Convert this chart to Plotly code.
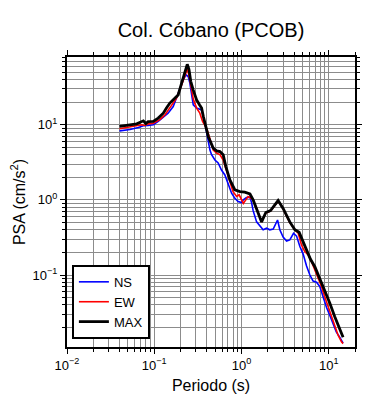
import numpy as np
import plotly.graph_objects as go

# ---------------- data ----------------
ns_period = [0.04, 0.0528, 0.0656, 0.075, 0.085, 0.0975, 0.111, 0.127, 0.144, 0.165, 0.18, 0.197,
             0.215, 0.231, 0.245, 0.256, 0.268, 0.28, 0.306, 0.349, 0.381, 0.398, 0.416, 0.435,
             0.454, 0.496, 0.54, 0.59, 0.645, 0.705, 0.77, 0.84, 0.915, 1.0, 1.05, 1.14, 1.25,
             1.31, 1.36, 1.49, 1.62, 1.77, 1.94, 2.11, 2.31, 2.59, 2.75, 3.0, 3.29, 3.58, 3.95,
             4.28, 4.67, 5.09, 5.57, 6.08, 6.62, 7.25, 7.91, 8.63, 9.44, 10.3, 11.2, 12.2, 13.4, 14.6]
ns_psa = [8.3, 8.65, 9.2, 9.7, 9.8, 10.0, 11.1, 12.5, 14.3, 17.5, 22.7, 30.8,
          39.8, 46.4, 44.0, 36.0, 24.0, 18.5, 16.7, 15.8, 10.5, 7.7, 6.0, 4.6,
          4.0, 3.4, 3.1, 2.5, 2.15, 1.67, 1.23, 1.05, 0.95, 0.92, 1.0, 1.08, 1.09,
          0.90, 0.72, 0.51, 0.46, 0.40, 0.42, 0.40, 0.41, 0.54, 0.40, 0.32, 0.284, 0.293, 0.36,
          0.33, 0.24, 0.19, 0.132, 0.10, 0.083, 0.080, 0.070, 0.050, 0.037, 0.029, 0.022, 0.0175, 0.0148, 0.0124]

ew_period = [0.04, 0.05, 0.063, 0.072, 0.078, 0.085, 0.0975, 0.116, 0.133, 0.158, 0.18, 0.206,
             0.225, 0.24, 0.256, 0.268, 0.28, 0.306, 0.333, 0.358, 0.381, 0.398, 0.427, 0.474,
             0.519, 0.566, 0.617, 0.674, 0.736, 0.80, 0.88, 0.94, 1.05, 1.19, 1.29, 1.36, 1.49,
             1.70, 1.90, 2.15, 2.63, 3.0, 3.58, 4.09, 4.47, 4.88, 5.32, 5.81, 6.35, 6.93, 7.57,
             8.28, 9.02, 9.84, 10.8, 11.7, 12.8, 14.0, 14.6]
ew_psa = [8.85, 9.2, 9.8, 10.0, 9.8, 10.3, 10.5, 11.7, 13.6, 18.5, 22.7, 34.0,
          46.0, 56.0, 40.0, 30.8, 22.0, 16.7, 14.3, 11.1, 9.5, 9.0, 7.0, 4.6,
          4.2, 4.0, 3.4, 2.5, 1.75, 1.29, 1.11, 1.17, 0.90, 1.11, 1.05, 1.0, 0.77,
          0.51, 0.67, 0.71, 0.97, 0.76, 0.50, 0.40, 0.36, 0.25, 0.205, 0.185, 0.15, 0.117, 0.090,
          0.070, 0.051, 0.038, 0.028, 0.020, 0.0158, 0.0129, 0.0122]

max_period = [0.04, 0.05, 0.063, 0.075, 0.08, 0.085, 0.0975, 0.111, 0.127, 0.138, 0.151, 0.173,
              0.188, 0.206, 0.225, 0.239, 0.25, 0.262, 0.28, 0.306, 0.33, 0.349, 0.365, 0.381,
              0.416, 0.474, 0.519, 0.566, 0.617, 0.662, 0.736, 0.84, 0.96, 1.09, 1.25, 1.36,
              1.49, 1.70, 1.90, 2.15, 2.63, 3.0, 3.58, 4.09, 4.58, 5.09, 5.57, 6.18, 6.93, 7.91,
              9.02, 10.3, 11.7, 13.4, 14.6]
max_psa = [9.5, 9.8, 10.3, 11.3, 10.4, 11.0, 11.1, 12.3, 14.3, 16.7, 19.5, 22.7,
           25.0, 36.0, 49.0, 64.0, 55.0, 38.0, 29.0, 21.5, 18.5, 16.7, 13.0, 10.5,
           7.0, 4.9, 4.5, 4.4, 4.0, 2.78, 1.85, 1.36, 1.29, 1.27, 1.2, 1.0,
           0.77, 0.51, 0.68, 0.72, 0.98, 0.77, 0.51, 0.40, 0.37, 0.28, 0.215, 0.162, 0.129, 0.090,
           0.063, 0.042, 0.028, 0.0185, 0.0148]

x_tickvals = [0.01, 0.1, 1, 10]
x_ticktext = ["10<sup>−2</sup>", "10<sup>−1</sup>", "10<sup>0</sup>", "10<sup>1</sup>"]
y_tickvals = [0.1, 1, 10]
y_ticktext = ["10<sup>−1</sup>", "10<sup>0</sup>", "10<sup>1</sup>"]

title_text = "Col. Cóbano (PCOB)"
x_title = "Periodo (s)"
y_title = "PSA (cm/s<sup>2</sup>)"

# ---------------- figure ----------------
FONT = "Liberation Sans, Arial, Helvetica, sans-serif"

def minor_vals(lo_exp, hi_exp):
    vals = []
    for e in range(lo_exp, hi_exp + 1):
        for m in range(2, 10):
            vals.append(m * 10.0 ** e)
    return vals

fig = go.Figure()
fig.add_trace(go.Scatter(x=ns_period, y=ns_psa, mode="lines", name="NS",
                         line=dict(color="#0000ff", width=1.6)))
fig.add_trace(go.Scatter(x=ew_period, y=ew_psa, mode="lines", name="EW",
                         line=dict(color="#ff0000", width=1.6)))
fig.add_trace(go.Scatter(x=max_period, y=max_psa, mode="lines", name="MAX",
                         line=dict(color="#000000", width=2.8)))

axis_common = dict(
    type="log", automargin=False,
    showline=True, linecolor="black", linewidth=2, mirror="ticks",
    ticks="outside", ticklen=5, tickwidth=1, tickcolor="black",
    showgrid=True, gridcolor="#8c8c8c", gridwidth=1,
    zeroline=False,
    tickfont=dict(family=FONT, size=13, color="black"),
)

fig.update_xaxes(
    **axis_common,
    range=[-2, np.log10(20)],
    tickmode="array", tickvals=x_tickvals, ticktext=x_ticktext,
    minor=dict(tickmode="array", tickvals=minor_vals(-2, 1), ticks="outside", ticklen=3,
               tickcolor="black", showgrid=True, gridcolor="#8c8c8c", gridwidth=1),
    title=dict(text=x_title, font=dict(family=FONT, size=16, color="black"), standoff=8),
)
fig.update_yaxes(
    **axis_common,
    range=[np.log10(0.011), np.log10(80)],
    tickmode="array", tickvals=y_tickvals, ticktext=y_ticktext,
    minor=dict(tickmode="array", tickvals=minor_vals(-2, 1), ticks="outside", ticklen=3,
               tickcolor="black", showgrid=True, gridcolor="#8c8c8c", gridwidth=1),
    title=dict(text=y_title, font=dict(family=FONT, size=16, color="black"), standoff=6),
)

# the page adds an 8px body margin, so the figure is 8px smaller than the window
fig.update_layout(
    width=382, height=392,
    margin=dict(l=59, r=35, t=49, b=53),
    paper_bgcolor="white", plot_bgcolor="white",
    title=dict(text=title_text, x=203 / 382, xanchor="center", y=1 - 22 / 392, yanchor="middle",
               font=dict(family=FONT, size=20, color="black")),
    font=dict(family=FONT, color="black"),
    showlegend=True,
    legend=dict(x=0.017, y=0.028, xanchor="left", yanchor="bottom",
                bgcolor="white", bordercolor="black", borderwidth=2,
                font=dict(family=FONT, size=13, color="black"),
                itemwidth=30, entrywidth=45, tracegroupgap=2),
)

fig.write_html("out.html")
